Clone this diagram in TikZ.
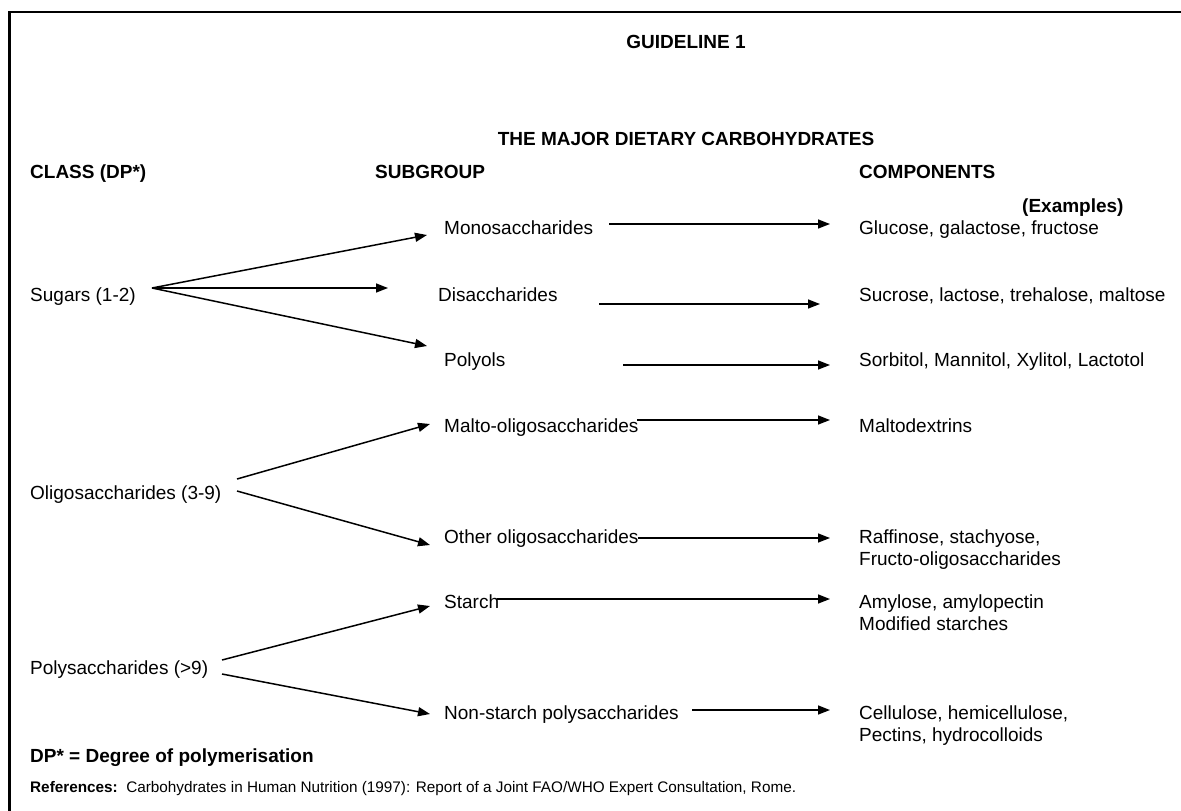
\documentclass[tikz,border=0pt]{standalone}
\usepackage{fontspec}
\setmainfont{Liberation Sans}
\usetikzlibrary{arrows.meta}
\begin{document}
\begin{tikzpicture}[x=1pt,y=-1pt,
  txt/.style={anchor=base west,inner sep=0pt,font=\fontsize{19}{22}\selectfont},
  btxt/.style={anchor=base west,inner sep=0pt,font=\fontsize{19}{22}\selectfont\bfseries},
  arr/.style={line width=1.5pt,-{Triangle[length=12pt,width=9pt]}},
  frame/.style={line width=2.5pt}]
\useasboundingbox (0,0) rectangle (1181,811);
\fill[white] (0,0) rectangle (1181,811);
% frame (left and top edges)
\coordinate (fbl) at (9.5,811);
\coordinate (ftl) at (9.5,12);
\coordinate (ftr) at (1181,12);
\draw[frame] (fbl) -- (ftl) -- (ftr);
% headings
\node[btxt,anchor=base] (title) at (686,48) {GUIDELINE 1};
\node[btxt,anchor=base] (major) at (686,145) {THE MAJOR DIETARY CARBOHYDRATES};
\node[btxt] (hclass) at (30,178) {CLASS (DP*)};
\node[btxt] (hsub) at (375,178) {SUBGROUP};
\node[btxt] (hcomp) at (859,178) {COMPONENTS};
\node[btxt] (hex) at (1022,212) {(Examples)};
% classes
\node[txt] (sugars) at (30,301) {Sugars (1-2)};
\node[txt] (oligo) at (30,499) {Oligosaccharides (3-9)};
\node[txt] (poly) at (30,674) {Polysaccharides (>9)};
% subgroups
\node[txt] (mono) at (444,234) {Monosaccharides};
\node[txt] (di) at (438,301) {Disaccharides};
\node[txt] (polyol) at (444,366) {Polyols};
\node[txt] (malto) at (444,432) {Malto-oligosaccharides};
\node[txt] (other) at (444,543) {Other oligosaccharides};
\node[txt] (starch) at (444,608) {Starch};
\node[txt] (nsp) at (444,719) {Non-starch polysaccharides};
% components (multi-line nodes anchored on the last baseline)
\node[txt] (c1) at (859,234) {Glucose, galactose, fructose};
\node[txt] (c2) at (859,301) {Sucrose, lactose, trehalose, maltose};
\node[txt] (c3) at (859,366) {Sorbitol, Mannitol, Xylitol, Lactotol};
\node[txt] (c4) at (859,432) {Maltodextrins};
\node[txt,align=left] (c5) at (859,565) {Raffinose, stachyose,\\Fructo-oligosaccharides};
\node[txt,align=left] (c6) at (859,630) {Amylose, amylopectin\\Modified starches};
\node[txt,align=left] (c7) at (859,741) {Cellulose, hemicellulose,\\Pectins, hydrocolloids};
% footer
\node[btxt] (dp) at (30,762) {DP* = Degree of polymerisation};
\node[txt,font=\fontsize{15.3}{17}\selectfont] (ref) at (30,792) {\textbf{References:}\ \ Carbohydrates in Human Nutrition (1997): Report of a Joint FAO/WHO Expert Consultation, Rome.};
% arrow end points
\coordinate (sO) at (152,288);
\coordinate (sA) at (427,235);
\coordinate (sB) at (388,288);
\coordinate (sC) at (427,346);
\coordinate (oA0) at (237,479);
\coordinate (oA) at (430,424);
\coordinate (oB0) at (237,491);
\coordinate (oB) at (430,545);
\coordinate (pA0) at (222,660);
\coordinate (pA) at (430,606);
\coordinate (pB0) at (222,674);
\coordinate (pB) at (430,714);
\coordinate (m0) at (609,224);   \coordinate (m1) at (830,224);
\coordinate (d0) at (599,304);   \coordinate (d1) at (820,304);
\coordinate (p0) at (623,365);   \coordinate (p1) at (830,365);
\coordinate (ma0) at (637,420);  \coordinate (ma1) at (830,420);
\coordinate (ot0) at (638,538);  \coordinate (ot1) at (830,538);
\coordinate (st0) at (497,599);  \coordinate (st1) at (830,599);
\coordinate (ns0) at (692,710);  \coordinate (ns1) at (830,710);
% arrows
\draw[arr] (sO) -- (sA);
\draw[arr] (sO) -- (sB);
\draw[arr] (sO) -- (sC);
\draw[arr] (oA0) -- (oA);
\draw[arr] (oB0) -- (oB);
\draw[arr] (pA0) -- (pA);
\draw[arr] (pB0) -- (pB);
\draw[arr] (m0) -- (m1);
\draw[arr] (d0) -- (d1);
\draw[arr] (p0) -- (p1);
\draw[arr] (ma0) -- (ma1);
\draw[arr] (ot0) -- (ot1);
\draw[arr] (st0) -- (st1);
\draw[arr] (ns0) -- (ns1);
\end{tikzpicture}
\end{document}
